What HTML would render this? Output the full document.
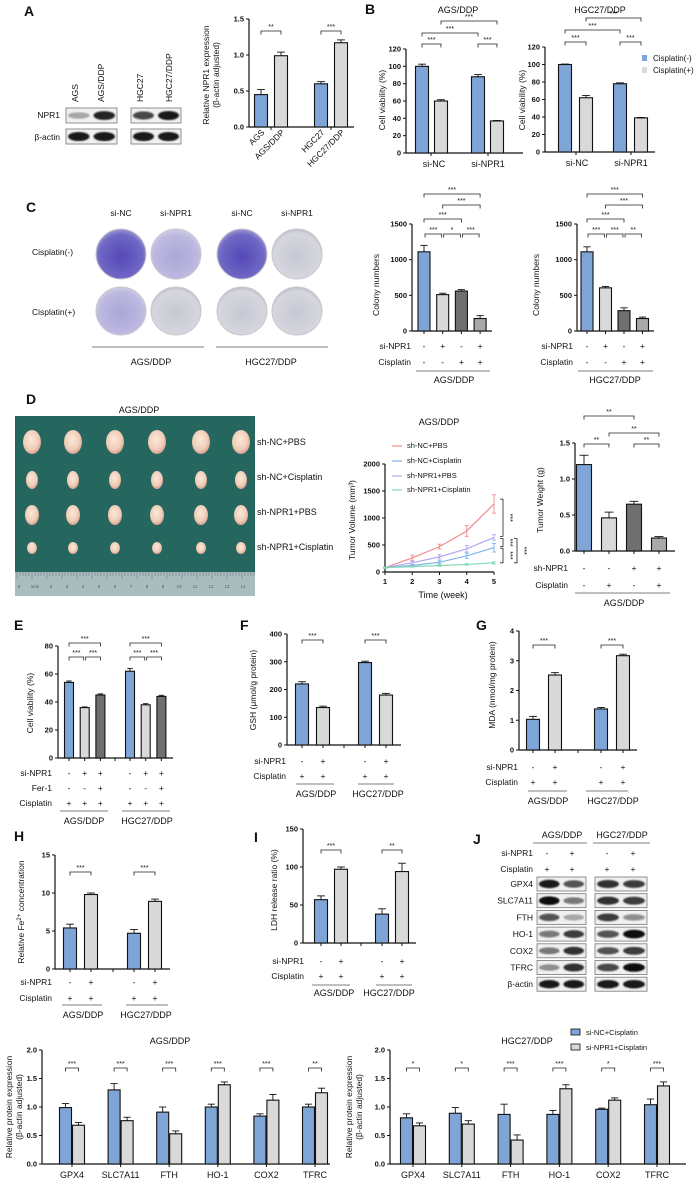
<!DOCTYPE html>
<html><head><meta charset="utf-8">
<style>
html,body{margin:0;padding:0;background:#fff;}
svg{display:block;font-family:"Liberation Sans",sans-serif;}
</style></head>
<body>
<svg id="fig" xmlns="http://www.w3.org/2000/svg" width="694" height="1181" viewBox="0 0 694 1181">
<defs>
<filter id="blur1"><feGaussianBlur stdDeviation="1.2"/></filter>
<filter id="blur2"><feGaussianBlur stdDeviation="0.8"/></filter>
<radialGradient id="plateDark" cx="50%" cy="55%" r="55%"><stop offset="0" stop-color="#5548b8"/><stop offset="0.8" stop-color="#7068c4"/><stop offset="1" stop-color="#9c98d2"/></radialGradient>
<radialGradient id="plateMid" cx="50%" cy="55%" r="55%"><stop offset="0" stop-color="#aaa6d8"/><stop offset="0.8" stop-color="#bdb9e0"/><stop offset="1" stop-color="#cfcde6"/></radialGradient>
<radialGradient id="plateLight" cx="50%" cy="55%" r="55%"><stop offset="0" stop-color="#c8c8d4"/><stop offset="0.85" stop-color="#d6d6de"/><stop offset="1" stop-color="#bdbdc8"/></radialGradient>
<radialGradient id="tumor" cx="45%" cy="40%" r="60%"><stop offset="0" stop-color="#fbe8d8"/><stop offset="0.7" stop-color="#efcdb8"/><stop offset="1" stop-color="#d8a090"/></radialGradient>
</defs>
</svg>
<script>
// ===== data =====
const aCats=['AGS','AGS/DDP','HGC27','HGC27/DDP'];
const aVals=[0.45,0.99,0.60,1.17];
const aErrs=[0.07,0.05,0.03,0.04];
const aTicks=['0.0','0.5','1.0','1.5'];
const bGroups=['si-NC','si-NPR1'];
const bAgsVals=[100,60,88,37];
const bAgsErrs=[2.5,1.5,2.5,0.5];
const bHgcVals=[100,62,78,39];
const bHgcErrs=[0.5,2.5,1,0.5];
const bTicks=['0','20','40','60','80','100','120'];
const cAgsVals=[1110,510,560,175];
const cAgsErrs=[90,20,20,40];
const cHgcVals=[1110,605,285,175];
const cHgcErrs=[70,20,40,20];
const cTicks=['0','500','1000','1500'];
const dWeeks=[1,2,3,4,5];
const dSeriesNames=['sh-NC+PBS','sh-NC+Cisplatin','sh-NPR1+PBS','sh-NPR1+Cisplatin'];
const dNcPbs=[80,260,470,760,1260];
const dNcPbsErr=[10,50,45,100,170];
const dNcCis=[80,120,180,300,450];
const dNcCisErr=[10,20,30,50,80];
const dNprPbs=[80,170,280,430,640];
const dNprPbsErr=[10,30,40,60,50];
const dNprCis=[80,100,120,140,170];
const dNprCisErr=[10,10,15,15,20];
const dVolTicks=['0','500','1000','1500','2000'];
const dWeightVals=[1.2,0.46,0.65,0.18];
const dWeightErrs=[0.13,0.08,0.04,0.02];
const dWeightTicks=['0.0','0.5','1.0','1.5'];
const eVals=[54,36,45,62,38,44];
const eErrs=[1,0.5,0.8,2,0.8,0.8];
const eTicks=['0','20','40','60','80'];
const fVals=[220,135,297,180];
const fErrs=[8,5,5,6];
const fTicks=['0','100','200','300','400'];
const gVals=[1.03,2.52,1.38,3.17];
const gErrs=[0.1,0.08,0.05,0.05];
const gTicks=['0','1','2','3','4'];
const hVals=[5.4,9.8,4.7,8.9];
const hErrs=[0.5,0.2,0.5,0.3];
const hTicks=['0','5','10','15'];
const iVals=[57,97,38,94];
const iErrs=[5,3,7,11];
const iTicks=['0','50','100','150'];
const proteins=['GPX4','SLC7A11','FTH','HO-1','COX2','TFRC'];
const agsNc=[0.99,1.30,0.91,1.00,0.84,1.00];
const agsNcErr=[0.07,0.11,0.09,0.05,0.04,0.05];
const agsSi=[0.68,0.76,0.53,1.39,1.12,1.25];
const agsSiErr=[0.05,0.06,0.05,0.05,0.10,0.08];
const agsSig=['***','***','***','***','***','**'];
const hgcNc=[0.81,0.89,0.87,0.87,0.96,1.04];
const hgcNcErr=[0.07,0.10,0.18,0.07,0.02,0.10];
const hgcSi=[0.67,0.70,0.42,1.32,1.12,1.37];
const hgcSiErr=[0.05,0.06,0.09,0.07,0.04,0.07];
const hgcSig=['*','*','***','***','*','***'];
const protTicks=['0.0','0.5','1.0','1.5','2.0'];
const jRows=['GPX4','SLC7A11','FTH','HO-1','COX2','TFRC','β-actin'];
const jBands=[[.95,.7,.85,.8],[1,.55,.85,.8],[.7,.35,.8,.45],[.55,.8,.7,1],[.55,.85,.7,.8],[.45,.85,.75,1],[.95,.95,.95,.95]];
const aBandsNpr1=[.35,.9,.75,.95];
const aBandsActin=[.95,.95,.95,.95];

// ===== helpers =====
const NS='http://www.w3.org/2000/svg';
const svg=document.getElementById('fig');
const BLUE='#7fa5d6',LG='#d9d9d9',DG='#6f6f6f',MG='#a9a9a9';
function mk(tag,attrs,name,parent){
  const e=document.createElementNS(NS,tag);
  for(const k in attrs)e.setAttribute(k,attrs[k]);
  
  
  (parent||svg).appendChild(e);return e;
}
function T(x,y,s,size,name,anchor,extra){
  const a=Object.assign({x:x,y:y,'font-size':size,'text-anchor':anchor||'middle',fill:'#111'},extra||{});
  const e=mk('text',a,name);e.textContent=s;return e;
}
function RT(x,y,s,size,name){
  return T(0,0,s,size,name,'middle',{transform:'translate('+x+','+y+') rotate(-90)'});
}
function L(x1,y1,x2,y2,name,w,c){return mk('line',{x1:x1,y1:y1,x2:x2,y2:y2,stroke:c||'#111','stroke-width':w||1},name);}
function letter(s,x,y){T(x,y,s,14,'panel-label-'+s.toLowerCase(),'start',{'font-weight':'bold'});}
function pos(first,step,gstep,g,n){const r=[];for(let i=0;i<n;i++)r.push(first+Math.floor(i/g)*gstep+(i%g)*step);return r;}
function bracket(x1,x2,y,label,name){
  mk('path',{d:'M'+x1+' '+(y+3.5)+'V'+y+'H'+x2+'V'+(y+3.5),fill:'none',stroke:'#222','stroke-width':0.8},name);
  T((x1+x2)/2,y-2,label,7,name+'-label');
}
function chart(c){
  const ys=v=>c.y0-v/c.max*(c.y0-c.yTop);
  L(c.ax,c.y0,c.ax,c.yTop,c.name+'-y-axis',1.2);
  L(c.ax,c.y0,c.axEnd,c.y0,c.name+'-x-axis',1.2);
  c.ticks.forEach(t=>{const v=parseFloat(t);const y=ys(v);
    L(c.ax-3,y,c.ax,y,c.name+'-y-tick',1);
    T(c.ax-5,y+2.5,t,7.5,c.name+'-y-tick-label','end',{'font-weight':'bold'});});
  (c.xticks||[]).forEach(x=>L(x,c.y0,x,c.y0+3,c.name+'-x-tick',1));
  c.vals.forEach((v,i)=>{
    const x=c.xs[i],y=ys(v),ye=ys(v+c.errs[i]);
    L(x,y,x,ye,c.name+'-error-bar',0.9);
    L(x-c.bw*0.3,ye,x+c.bw*0.3,ye,c.name+'-error-cap',0.9);
    mk('rect',{x:x-c.bw/2,y:y,width:c.bw,height:c.y0-y,fill:c.colors[i%c.colors.length],stroke:'#111','stroke-width':1.1},c.name+'-bar-'+i);
  });
  if(c.ylabel)c.ylabel.forEach((s,k)=>RT(c.ylx+k*10,c.yly,s,8.5,c.name+'-y-axis-title'));
  return ys;
}
function signs(xs,rows,labelX,name){
  rows.forEach(r=>{T(labelX,r.y,r.label,8.5,name+'-row-label','end');
    r.s.split('').forEach((ch,i)=>T(xs[i],r.y,ch==='+'?'+':'-',8.5,name+'-sign'));});
}
function blot(x,y,w,h,ints,name){
  const g=mk('g',{},name);
  mk('rect',{x:x,y:y,width:w,height:h,fill:'#f0f0f0',stroke:'#777','stroke-width':0.8},name+'-frame',g);
  const n=ints.length;
  ints.forEach((v,i)=>{const cx=x+w*(i+0.5)/n;
    mk('ellipse',{cx:cx,cy:y+h/2,rx:w/n*0.42,ry:h*0.28*(0.6+0.5*v),fill:'#111','fill-opacity':v,filter:'url(#blur2)'},name+'-band',g);});
}

// ===== Panel A =====
letter('A',24,16);
['AGS','AGS/DDP','HGC27','HGC27/DDP'].forEach((s,i)=>T(0,0,s,8.5,'blot-lane-label','start',{transform:'translate('+[78,104,143,172][i]+',102) rotate(-90)'}));
T(60,118,'NPR1',8.5,'npr1-row-label','end');
T(60,140,'β-actin',8.5,'actin-row-label','end');
blot(66,108,51,15,aBandsNpr1.slice(0,2),'npr1-blot-ags');
blot(131,108,50,15,aBandsNpr1.slice(2,4),'npr1-blot-hgc');
blot(66,129,51,15,aBandsActin.slice(0,2),'actin-blot-ags');
blot(131,129,50,15,aBandsActin.slice(2,4),'actin-blot-hgc');
const axs=pos(261,20,60,2,4);
chart({name:'a-chart',ax:249,axEnd:354,y0:127,yTop:19,max:1.5,ticks:aTicks,xs:axs,xticks:[271,331],vals:aVals,errs:aErrs,colors:[BLUE,LG],bw:13,ylabel:['Relative NPR1 expression','(β-actin adjusted)'],ylx:209,yly:75});
aCats.forEach((s,i)=>T(0,0,s,8.5,'a-x-label','end',{transform:'translate('+(axs[i]+4)+',133) rotate(-45)'}));
bracket(axs[0],axs[1],31,'**','a-sig-1');bracket(axs[2],axs[3],31,'***','a-sig-2');

// ===== Panel B =====
letter('B',365,14);
const bx1=pos(422,19,56,2,4);
chart({name:'b-ags-chart',ax:406,axEnd:523,y0:153,yTop:49,max:120,ticks:bTicks,xs:bx1,xticks:[431,488],vals:bAgsVals,errs:bAgsErrs,colors:[BLUE,LG],bw:13,ylabel:['Cell viability (%)'],ylx:385,yly:100});
T(458,13,'AGS/DDP',9,'b-ags-title');
bGroups.forEach((s,i)=>T([434,488][i],167,s,9,'b-ags-x-label'));
bracket(bx1[0],bx1[1],44,'***','b-ags-sig-1');bracket(bx1[2],bx1[3],44,'***','b-ags-sig-2');
bracket(bx1[0],bx1[2],33,'***','b-ags-sig-3');bracket(bx1[1],bx1[3],21,'***','b-ags-sig-4');
const bx2=pos(565,21,55,2,4);
chart({name:'b-hgc-chart',ax:545,axEnd:655,y0:152,yTop:47,max:120,ticks:bTicks,xs:bx2,xticks:[576,631],vals:bHgcVals,errs:bHgcErrs,colors:[BLUE,LG],bw:13,ylabel:['Cell viability (%)'],ylx:525,yly:100});
T(600,13,'HGC27/DDP',9,'b-hgc-title');
bGroups.forEach((s,i)=>T([577,631][i],166,s,9,'b-hgc-x-label'));
bracket(bx2[0],bx2[1],42,'***','b-hgc-sig-1');bracket(bx2[2],bx2[3],42,'***','b-hgc-sig-2');
bracket(bx2[0],bx2[2],30,'***','b-hgc-sig-3');bracket(bx2[1],bx2[3],18,'***','b-hgc-sig-4');
mk('rect',{x:642,y:55,width:5,height:6,fill:BLUE},'legend-swatch-cisplatin-neg');
T(653,61,'Cisplatin(-)',8,'legend-cisplatin-neg','start');
mk('rect',{x:642,y:67,width:5,height:6,fill:LG},'legend-swatch-cisplatin-pos');
T(653,73,'Cisplatin(+)',8,'legend-cisplatin-pos','start');

// ===== Panel C =====
letter('C',26,212);
[['si-NC',121],['si-NPR1',176],['si-NC',242],['si-NPR1',297]].forEach(p=>T(p[1],216,p[0],8.5,'plate-column-label'));
T(32,255,'Cisplatin(-)',8.5,'plate-row-label','start');
T(32,315,'Cisplatin(+)',8.5,'plate-row-label','start');
const plateFills=[['url(#plateDark)','url(#plateMid)','url(#plateDark)','url(#plateLight)'],['url(#plateMid)','url(#plateLight)','url(#plateLight)','url(#plateLight)']];
[121,176,242,297].forEach((x,i)=>{[254,311].forEach((y,r)=>{
  mk('ellipse',{cx:x,cy:y,rx:25,ry:r?24:25,fill:plateFills[r][i],stroke:'#c8c8d0','stroke-width':1},'colony-plate');});});
L(92,347,204,347,'c-ags-underline',0.8,'#555');L(216,347,328,347,'c-hgc-underline',0.8,'#555');
T(151,365,'AGS/DDP',9,'c-ags-label');T(271,365,'HGC27/DDP',9,'c-hgc-label');
const cx1=pos(424,18.7,0,4,4);
chart({name:'c-ags-chart',ax:412,axEnd:492,y0:331,yTop:224,max:1500,ticks:cTicks,xs:cx1,xticks:cx1,vals:cAgsVals,errs:cAgsErrs,colors:[BLUE,LG,DG,MG],bw:12,ylabel:['Colony numbers'],ylx:379,yly:285});
signs(cx1,[{label:'si-NPR1',y:349,s:'-+-+'},{label:'Cisplatin',y:365,s:'--++'}],411,'c-ags-table');
L(416,371,490,371,'c-ags-table-line',0.8,'#555');T(454,383,'AGS/DDP',9,'c-ags-group-label');
bracket(cx1[0]+1,cx1[1]-1,234,'***','c-ags-sig-1');bracket(cx1[1]+1,cx1[2]-1,234,'*','c-ags-sig-2');bracket(cx1[2]+1,cx1[3]-1,234,'***','c-ags-sig-3');
bracket(cx1[0],cx1[2],219,'***','c-ags-sig-4');bracket(cx1[1],cx1[3],205,'***','c-ags-sig-5');bracket(cx1[0],cx1[3],194,'***','c-ags-sig-6');
const cx2=pos(587,18.5,0,4,4);
chart({name:'c-hgc-chart',ax:577,axEnd:654,y0:331,yTop:224,max:1500,ticks:cTicks,xs:cx2,xticks:cx2,vals:cHgcVals,errs:cHgcErrs,colors:[BLUE,LG,DG,MG],bw:12,ylabel:['Colony numbers'],ylx:539,yly:285});
signs(cx2,[{label:'si-NPR1',y:349,s:'-+-+'},{label:'Cisplatin',y:365,s:'--++'}],573,'c-hgc-table');
L(578,371,653,371,'c-hgc-table-line',0.8,'#555');T(615,383,'HGC27/DDP',9,'c-hgc-group-label');
bracket(cx2[0]+1,cx2[1]-1,234,'***','c-hgc-sig-1');bracket(cx2[1]+1,cx2[2]-1,234,'***','c-hgc-sig-2');bracket(cx2[2]+1,cx2[3]-1,234,'**','c-hgc-sig-3');
bracket(cx2[0],cx2[2],219,'***','c-hgc-sig-4');bracket(cx2[1],cx2[3],205,'***','c-hgc-sig-5');bracket(cx2[0],cx2[3],194,'***','c-hgc-sig-6');

// ===== Panel D =====
letter('D',26,404);
T(139,413,'AGS/DDP',9,'d-photo-title');
mk('rect',{x:15,y:416,width:240,height:180,fill:'#25665f'},'tumor-photo');
mk('rect',{x:15,y:572,width:240,height:24,fill:'#a9bcbe'},'ruler');
for(let k=0;k<=14;k++){T(19+k*16,588,k===1?'1cm':String(k),4.5,'ruler-number','middle',{fill:'#556'});}
for(let k=0;k<80;k++)L(17+k*3,572,17+k*3,k%5?576:579,'ruler-tick',0.4,'#556');
const tumorSizes=[[9,12],[6,9],[7,10],[5,6]];
[442,480,515,548].forEach((y,r)=>[32,73,115,157,201,241].forEach(x=>mk('ellipse',{cx:x,cy:y,rx:tumorSizes[r][0],ry:tumorSizes[r][1],fill:'url(#tumor)'},'tumor')));
['sh-NC+PBS','sh-NC+Cisplatin','sh-NPR1+PBS','sh-NPR1+Cisplatin'].forEach((s,i)=>T(257,[445,480,515,550][i],s,9,'tumor-row-label','start'));
const lx=w=>385+(w-1)/4*(494-385);
const ly=v=>572-v/2000*(572-464);
T(439,425,'AGS/DDP',9,'d-line-title');
L(385,572,385,464,'d-line-y-axis',1.2);L(385,572,494,572,'d-line-x-axis',1.2);
dVolTicks.forEach(t=>{const y=ly(parseFloat(t));L(382,y,385,y,'d-line-y-tick');T(380,y+2.5,t,7.5,'d-line-y-tick-label','end',{'font-weight':'bold'});});
dWeeks.forEach(w=>{L(lx(w),572,lx(w),575,'d-line-x-tick');T(lx(w),584,String(w),7.5,'d-line-x-tick-label','middle',{'font-weight':'bold'});});
T(443,598,'Time (week)',9,'d-line-x-axis-title');
RT(355,520,'Tumor Volume (mm³)',8.5,'d-line-y-axis-title');
const series=[[dNcPbs,dNcPbsErr,'#f28b8b'],[dNcCis,dNcCisErr,'#80b4ea'],[dNprPbs,dNprPbsErr,'#b0a8f4'],[dNprCis,dNprCisErr,'#7fdcb4']];
series.forEach((s,k)=>{
  mk('polyline',{points:dWeeks.map((w,i)=>lx(w)+','+ly(s[0][i])).join(' '),fill:'none',stroke:s[2],'stroke-width':1.2},'d-line-'+k);
  dWeeks.forEach((w,i)=>{const x=lx(w),a=ly(s[0][i]-s[1][i]),b=ly(s[0][i]+s[1][i]);
    L(x,a,x,b,'d-line-error',0.9,s[2]);L(x-2,a,x+2,a,'d-line-error-cap',0.9,s[2]);L(x-2,b,x+2,b,'d-line-error-cap',0.9,s[2]);});
  L(392,[446,461,476,490][k],402,[446,461,476,490][k],'legend-line-'+k,1.2,s[2]);
  T(407,[448,463,478,492][k],dSeriesNames[k],7.5,'legend-entry-'+k,'start');
});
function vbr(x,y1,y2,name){mk('path',{d:'M'+(x-3)+' '+y1+'H'+x+'V'+y2+'H'+(x-3),fill:'none',stroke:'#222','stroke-width':0.8},name);
  T(0,0,'***',7,name+'-label','middle',{transform:'translate('+(x+5)+','+((y1+y2)/2)+') rotate(90)'});}
vbr(503,ly(1350),ly(660),'d-sig-1');vbr(503,ly(620),ly(470),'d-sig-2');vbr(503,ly(440),ly(170),'d-sig-3');vbr(517,ly(620),ly(170),'d-sig-4');
const dx=pos(584,25,0,4,4);
chart({name:'d-weight-chart',ax:575,axEnd:675,y0:551,yTop:443,max:1.5,ticks:dWeightTicks,xs:dx,xticks:dx,vals:dWeightVals,errs:dWeightErrs,colors:[BLUE,LG,DG,MG],bw:15,ylabel:['Tumor Weight (g)'],ylx:543,yly:500});
signs(dx,[{label:'sh-NPR1',y:571,s:'--++'},{label:'Cisplatin',y:588,s:'-+-+'}],568,'d-table');
L(575,593,670,593,'d-table-line',0.8,'#555');T(624,606,'AGS/DDP',9,'d-group-label');
bracket(dx[0],dx[1],444,'**','d-sig-5');bracket(dx[2],dx[3],444,'**','d-sig-6');bracket(dx[1],dx[3],433,'**','d-sig-7');bracket(dx[0],dx[2],416,'**','d-sig-8');

// ===== Panel E =====
letter('E',14,630);
const ex=pos(69,15.7,61,3,6);
chart({name:'e-chart',ax:58,axEnd:173,y0:758,yTop:646,max:80,ticks:eTicks,xs:ex,xticks:ex.concat([115]),vals:eVals,errs:eErrs,colors:[BLUE,LG,DG],bw:9,ylabel:['Cell viability (%)'],ylx:33,yly:703});
signs(ex,[{label:'si-NPR1',y:776,s:'-++-++'},{label:'Fer-1',y:791,s:'--+--+'},{label:'Cisplatin',y:806,s:'++++++'}],52,'e-table');
L(60,811,108,811,'e-table-line',0.8,'#555');L(122,811,170,811,'e-table-line',0.8,'#555');
T(84,824,'AGS/DDP',9,'e-group-label');T(147,824,'HGC27/DDP',9,'e-group-label');
bracket(ex[0],ex[1]-1,657,'***','e-sig-1');bracket(ex[1]+1,ex[2],657,'***','e-sig-2');bracket(ex[0],ex[2],643,'***','e-sig-3');
bracket(ex[3],ex[4]-1,657,'***','e-sig-4');bracket(ex[4]+1,ex[5],657,'***','e-sig-5');bracket(ex[3],ex[5],643,'***','e-sig-6');

// ===== Panel F =====
letter('F',240,630);
const fx=pos(302,21,63,2,4);
chart({name:'f-chart',ax:287,axEnd:401,y0:745,yTop:634,max:400,ticks:fTicks,xs:fx,xticks:fx.concat([344]),vals:fVals,errs:fErrs,colors:[BLUE,LG],bw:13,ylabel:['GSH (μmol/g protein)'],ylx:256,yly:690});
signs(fx,[{label:'si-NPR1',y:764,s:'-+-+'},{label:'Cisplatin',y:779,s:'++++'}],286,'f-table');
L(296,784,334,784,'f-table-line',0.8,'#555');L(358,784,394,784,'f-table-line',0.8,'#555');
T(316,797,'AGS/DDP',9,'f-group-label');T(378,797,'HGC27/DDP',9,'f-group-label');
bracket(fx[0],fx[1],640,'***','f-sig-1');bracket(fx[2],fx[3],640,'***','f-sig-2');

// ===== Panel G =====
letter('G',476,630);
const gx=pos(533,22,68,2,4);
chart({name:'g-chart',ax:519,axEnd:637,y0:750,yTop:631,max:4,ticks:gTicks,xs:gx,xticks:gx.concat([578]),vals:gVals,errs:gErrs,colors:[BLUE,LG],bw:13,ylabel:['MDA (nmol/mg protein)'],ylx:495,yly:685});
signs(gx,[{label:'si-NPR1',y:770,s:'-+-+'},{label:'Cisplatin',y:785,s:'++++'}],518,'g-table');
L(528,791,567,791,'g-table-line',0.8,'#555');L(586,791,628,791,'g-table-line',0.8,'#555');
T(548,804,'AGS/DDP',9,'g-group-label');T(613,804,'HGC27/DDP',9,'g-group-label');
bracket(gx[0],gx[1],645,'***','g-sig-1');bracket(gx[2],gx[3],645,'***','g-sig-2');

// ===== Panel H =====
letter('H',14,841);
const hx=pos(70,21,64,2,4);
chart({name:'h-chart',ax:55,axEnd:170,y0:969,yTop:855,max:15,ticks:hTicks,xs:hx,xticks:hx.concat([113]),vals:hVals,errs:hErrs,colors:[BLUE,LG],bw:13,ylabel:[''],ylx:24,yly:912});
T(0,0,'',8.5,'h-y-axis-title','middle',{transform:'translate(24,912) rotate(-90)'}).innerHTML='Relative Fe<tspan baseline-shift="super" font-size="6">2+</tspan> concentration';
signs(hx,[{label:'si-NPR1',y:985,s:'-+-+'},{label:'Cisplatin',y:1001,s:'++++'}],52,'h-table');
L(62,1005,102,1005,'h-table-line',0.8,'#555');L(126,1005,168,1005,'h-table-line',0.8,'#555');
T(83,1018,'AGS/DDP',9,'h-group-label');T(146,1018,'HGC27/DDP',9,'h-group-label');
bracket(hx[0],hx[1],872,'***','h-sig-1');bracket(hx[2],hx[3],872,'***','h-sig-2');

// ===== Panel I =====
letter('I',254,842);
const ix=pos(321,20,61,2,4);
chart({name:'i-chart',ax:303,axEnd:416,y0:943,yTop:829,max:150,ticks:iTicks,xs:ix,xticks:ix.concat([361]),vals:iVals,errs:iErrs,colors:[BLUE,LG],bw:13,ylabel:['LDH release ratio (%)'],ylx:277,yly:890});
signs(ix,[{label:'si-NPR1',y:964,s:'-+-+'},{label:'Cisplatin',y:979,s:'++++'}],304,'i-table');
L(312,985,350,985,'i-table-line',0.8,'#555');L(376,985,412,985,'i-table-line',0.8,'#555');
T(334,996,'AGS/DDP',9,'i-group-label');T(389,996,'HGC27/DDP',9,'i-group-label');
bracket(ix[0],ix[1],850,'***','i-sig-1');bracket(ix[2],ix[3],850,'**','i-sig-2');

// ===== Panel J =====
letter('J',473,844);
T(562,838,'AGS/DDP',9,'j-ags-header');T(622,838,'HGC27/DDP',9,'j-hgc-header');
L(533,843,587,843,'j-ags-line',0.8,'#555');L(593,843,650,843,'j-hgc-line',0.8,'#555');
signs([547,572,607,633],[{label:'si-NPR1',y:856,s:'-+-+'},{label:'Cisplatin',y:872,s:'++++'}],533,'j-table');
jRows.forEach((r,k)=>{const y=884+k*16.7;
  T(533,y+3,r,8.5,'j-row-label','end');
  blot(537,y-7,49,14,jBands[k].slice(0,2),'j-blot-ags-'+k);
  blot(595,y-7,52,14,jBands[k].slice(2,4),'j-blot-hgc-'+k);});

// ===== bottom protein charts =====
function protChart(name,ax,axEnd,first,gstep,nc,ncE,si,siE,sig,title,tx,ylx){
  const xs=pos(first,13,gstep,2,12);
  const vals=[],errs=[];nc.forEach((v,i)=>{vals.push(v,si[i]);errs.push(ncE[i],siE[i]);});
  chart({name:name,ax:ax,axEnd:axEnd,y0:1164,yTop:1050,max:2,ticks:protTicks,xs:xs,vals:vals,errs:errs,colors:[BLUE,LG],bw:12,ylabel:['Relative protein expression','(β-actin adjusted)'],ylx:ylx,yly:1107});
  T(tx,1044,title,9,name+'-title');
  proteins.forEach((p,i)=>{const c=(xs[2*i]+xs[2*i+1])/2;L(c,1164,c,1167,name+'-x-tick');T(c,1178,p,9,name+'-x-label');
    bracket(xs[2*i],xs[2*i+1],1068,sig[i],name+'-sig-'+i);});
}
protChart('k-ags-chart',42,330,65.5,48.6,agsNc,agsNcErr,agsSi,agsSiErr,agsSig,'AGS/DDP',170,12);
protChart('k-hgc-chart',390,686,406.5,48.8,hgcNc,hgcNcErr,hgcSi,hgcSiErr,hgcSig,'HGC27/DDP',527,352);
mk('rect',{x:571,y:1029,width:9,height:6,fill:BLUE,stroke:'#111','stroke-width':0.8},'legend-swatch-si-nc');
T(586,1035,'si-NC+Cisplatin',7.5,'legend-si-nc','start');
mk('rect',{x:571,y:1044,width:9,height:6,fill:LG,stroke:'#111','stroke-width':0.8},'legend-swatch-si-npr1');
T(586,1050,'si-NPR1+Cisplatin',7.5,'legend-si-npr1','start');
</script>
</body></html>
